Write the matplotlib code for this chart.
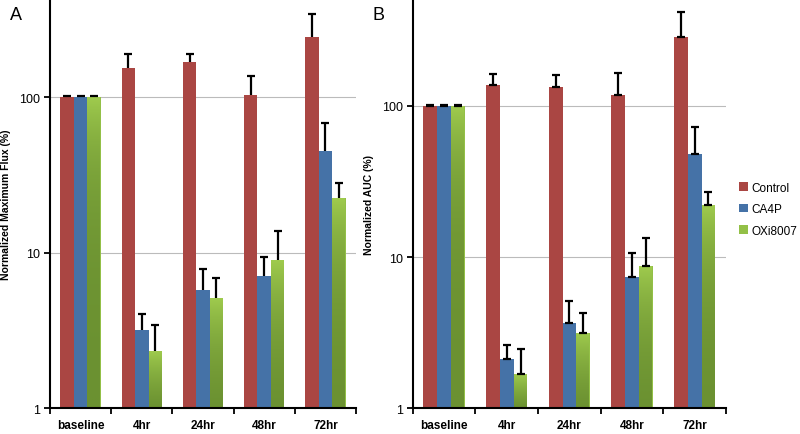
import numpy as np
import matplotlib
matplotlib.use("Agg")
import matplotlib.pyplot as plt
from matplotlib.patches import Patch

plt.rcParams["font.family"] = ["Liberation Sans", "DejaVu Sans"]

# ---------- Data -------------------------------------------------------------

categories = ["baseline", "4hr", "24hr", "48hr", "72hr"]
series = ["Control", "CA4P", "OXi8007"]

flux_control = [100, 153, 167, 103, 244]
flux_ca4p = [100, 3.19, 5.75, 7.04, 44.8]
flux_oxi = [100, 2.34, 5.13, 9.0, 22.5]
flux_control_err = [1.5, 37, 23, 34, 96]
flux_ca4p_err = [1.5, 0.84, 2.1, 2.4, 23]
flux_oxi_err = [1.5, 1.09, 1.7, 4.8, 5.4]

auc_control = [100, 137, 134, 118, 286]
auc_ca4p = [100, 2.12, 3.66, 7.41, 47.7]
auc_oxi = [100, 1.69, 3.17, 8.77, 22.2]
auc_control_err = [1.5, 26, 25, 47, 133]
auc_ca4p_err = [1.5, 0.49, 1.43, 3.2, 25]
auc_oxi_err = [1.5, 0.78, 1.1, 4.7, 4.9]

colours = ["#AA4643", "#4572A7", "#93C047"]
green_top, green_bottom = "#A0CC4E", "#6B9131"


# ---------- Plotting ---------------------------------------------------------

def draw_panel(ax, values, errors, ylabel, ytop, bottom_caps):
    x = np.arange(len(categories))
    width = 0.22
    for i, (vals, errs, col) in enumerate(zip(values, errors, colours)):
        pos = x + (i - 1) * width
        bars = ax.bar(pos, vals, width, bottom=0, color=col, zorder=2,
                      linewidth=0)
        if i == 2:
            # green bars get a vertical gradient (bright top, dark bottom)
            grad = np.linspace(1, 0, 256).reshape(-1, 1)
            cmap = matplotlib.colors.LinearSegmentedColormap.from_list(
                "g", [green_bottom, green_top])
            for b, v in zip(bars, vals):
                im = ax.imshow(grad, cmap=cmap, aspect="auto", zorder=2.5,
                               extent=(b.get_x(), b.get_x() + b.get_width(), 1, v),
                               interpolation="bilinear")
                im.set_clip_path(b)
        eb = ax.errorbar(pos, vals, yerr=[np.zeros(len(vals)), errs], fmt="none",
                         ecolor="black", elinewidth=1.6, capsize=2.8,
                         capthick=1.6, zorder=3)
        if not bottom_caps:
            eb[1][0].set_visible(False)

    ax.set_yscale("log")
    ax.set_ylim(1, ytop)
    ax.set_xlim(-0.5, len(categories) - 0.5)
    ax.set_yticks([1, 10, 100], ["1", "10", "100"])
    ax.yaxis.set_minor_locator(matplotlib.ticker.NullLocator())
    ax.grid(axis="y", which="major", color="#BBBBBB", linewidth=0.8, zorder=0)
    ax.set_axisbelow(True)

    ax.set_xticks(x, categories, fontweight="bold", fontsize=8.5)
    ax.set_xticks(np.arange(len(categories) + 1) - 0.5, minor=True)
    ax.tick_params(axis="x", which="major", length=0, pad=8)
    ax.tick_params(axis="x", which="minor", length=4, width=1.3, direction="out")
    ax.tick_params(axis="y", which="major", length=4, width=1.3, labelsize=9,
                   direction="out", pad=3)

    for side in ("top", "right"):
        ax.spines[side].set_visible(False)
    for side in ("left", "bottom"):
        ax.spines[side].set_linewidth(1.5)

    ax.set_ylabel(ylabel, fontsize=7.5, fontweight="bold", labelpad=6)


fig = plt.figure(figsize=(8, 4.35), dpi=100)
ax_a = fig.add_axes([0.0625, 0.059, 0.3825, 0.941])
ax_b = fig.add_axes([0.516, 0.059, 0.3915, 0.941])

draw_panel(ax_a, [flux_control, flux_ca4p, flux_oxi],
           [flux_control_err, flux_ca4p_err, flux_oxi_err],
           "Normalized Maximum Flux (%)", 427, bottom_caps=False)
draw_panel(ax_b, [auc_control, auc_ca4p, auc_oxi],
           [auc_control_err, auc_ca4p_err, auc_oxi_err],
           "Normalized AUC (%)", 509, bottom_caps=True)

fig.text(0.012, 0.955, "A", fontsize=13)
fig.text(0.465, 0.955, "B", fontsize=13)

handles = [Patch(facecolor=c, edgecolor="none") for c in colours]
fig.legend(handles, series, loc="center left", bbox_to_anchor=(0.918, 0.517),
           frameon=False, fontsize=8.5, handlelength=0.75, handleheight=0.75,
           handletextpad=0.3, labelspacing=0.8, borderaxespad=0)

fig.savefig("out.png", dpi=100)
